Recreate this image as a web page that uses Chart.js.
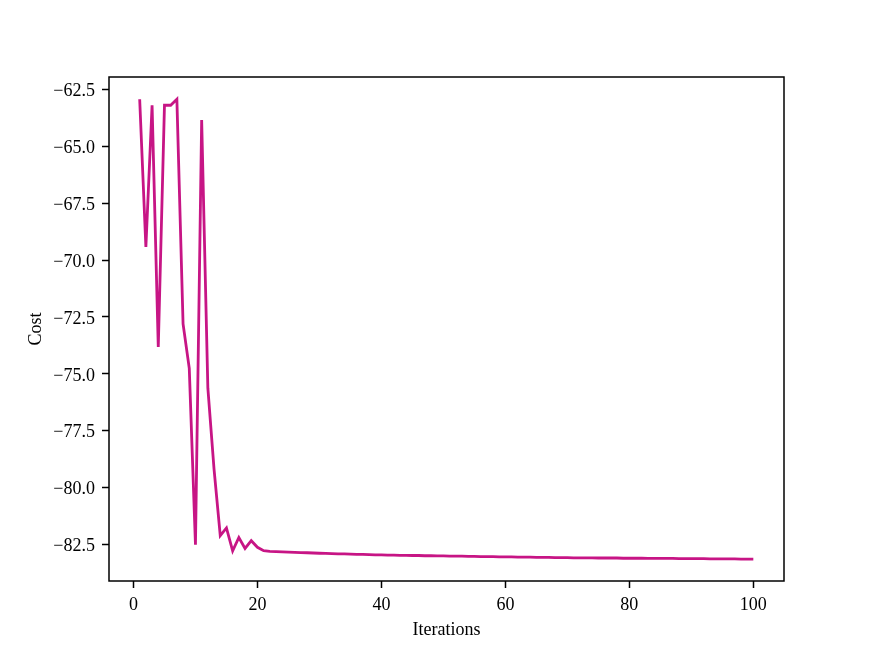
<!DOCTYPE html>
<html>
<head>
<meta charset="utf-8">
<script src="https://cdn.jsdelivr.net/npm/chart.js@4/dist/chart.umd.min.js"></script>
<style>
    html, body { margin: 0; padding: 0; background: #ffffff; }
    #wrap { width: 871px; height: 654px; position: relative; }
</style>
</head>
<body>
<div id="wrap"><canvas id="costChart"></canvas></div>
<script>
// ===========================
// DATOS
// ===========================
const iterations = [
    1, 2, 3, 4, 5, 6, 7, 8, 9, 10,
    11, 12, 13, 14, 15, 16, 17, 18, 19, 20,
    21, 22, 23, 24, 25, 26, 27, 28, 29, 30,
    31, 32, 33, 34, 35, 36, 37, 38, 39, 40,
    41, 42, 43, 44, 45, 46, 47, 48, 49, 50,
    51, 52, 53, 54, 55, 56, 57, 58, 59, 60,
    61, 62, 63, 64, 65, 66, 67, 68, 69, 70,
    71, 72, 73, 74, 75, 76, 77, 78, 79, 80,
    81, 82, 83, 84, 85, 86, 87, 88, 89, 90,
    91, 92, 93, 94, 95, 96, 97, 98, 99, 100
];

const cost = [
    -62.94, -69.43, -63.20, -73.82, -63.20, -63.20, -62.94, -72.81, -74.76, -82.51,
    -63.85, -75.63, -79.20, -82.11, -81.77, -82.78, -82.19, -82.67, -82.33, -82.62,
    -82.77, -82.80, -82.81, -82.82, -82.83, -82.84, -82.85, -82.86, -82.87, -82.88,
    -82.89, -82.90, -82.91, -82.91, -82.92, -82.93, -82.93, -82.94, -82.95, -82.95,
    -82.96, -82.96, -82.97, -82.97, -82.98, -82.98, -82.99, -82.99, -83.00, -83.00,
    -83.01, -83.01, -83.01, -83.02, -83.02, -83.03, -83.03, -83.03, -83.04, -83.04,
    -83.04, -83.05, -83.05, -83.05, -83.06, -83.06, -83.06, -83.07, -83.07, -83.07,
    -83.08, -83.08, -83.08, -83.08, -83.09, -83.09, -83.09, -83.09, -83.10, -83.10,
    -83.10, -83.10, -83.11, -83.11, -83.11, -83.11, -83.11, -83.12, -83.12, -83.12,
    -83.12, -83.12, -83.13, -83.13, -83.13, -83.13, -83.13, -83.14, -83.14, -83.14
];

const xTicks = [0, 20, 40, 60, 80, 100];
const yTicks = [-82.5, -80.0, -77.5, -75.0, -72.5, -70.0, -67.5, -65.0, -62.5];

// ===========================
// MARCO DEL ÁREA DE DIBUJO
// ===========================
const frameBox = {
    id: 'frameBox',
    afterDraw(chart) {
        const a = chart.chartArea;
        const c = chart.ctx;
        c.save();
        c.strokeStyle = '#000000';
        c.lineWidth = 1.5;
        c.strokeRect(a.left, a.top, a.right - a.left, a.bottom - a.top);
        c.restore();
    }
};

const fontTicks = { family: '"Liberation Serif", "DejaVu Serif", serif', size: 18 };

new Chart(document.getElementById('costChart'), {
    type: 'line',
    data: {
        datasets: [{
            label: 'Cost',
            data: iterations.map((it, i) => ({ x: it, y: cost[i] })),
            borderColor: '#C71585',
            backgroundColor: '#C71585',
            borderWidth: 2.8,
            pointRadius: 0,
            tension: 0,
            fill: false
        }]
    },
    options: {
        responsive: true,
        maintainAspectRatio: false,
        animation: false,
        layout: {
            padding: { left: 25, top: 77, right: 87, bottom: 13 }
        },
        plugins: {
            legend: { display: false },
            tooltip: { enabled: false }
        },
        scales: {
            x: {
                type: 'linear',
                min: -3.95,
                max: 104.95,
                afterBuildTicks: (scale) => {
                    scale.ticks = xTicks.map(v => ({ value: v }));
                },
                afterFit: (scale) => { scale.height = 60; },
                border: { display: false },
                grid: {
                    drawOnChartArea: false,
                    drawTicks: true,
                    tickLength: 7,
                    tickWidth: 1.5,
                    color: '#000000'
                },
                ticks: {
                    color: '#000000',
                    font: fontTicks,
                    padding: 6,
                    maxRotation: 0,
                    callback: (v) => String(v)
                },
                title: {
                    display: true,
                    text: 'Iterations',
                    color: '#000000',
                    font: fontTicks,
                    padding: { top: 0, bottom: 0 }
                }
            },
            y: {
                type: 'linear',
                min: -84.1,
                max: -61.96,
                afterBuildTicks: (scale) => {
                    scale.ticks = yTicks.map(v => ({ value: v }));
                },
                afterFit: (scale) => { scale.width = 84; },
                border: { display: false },
                grid: {
                    drawOnChartArea: false,
                    drawTicks: true,
                    tickLength: 7,
                    tickWidth: 1.5,
                    color: '#000000'
                },
                ticks: {
                    color: '#000000',
                    font: fontTicks,
                    padding: 7,
                    labelOffset: 2,
                    callback: (v) => (v < 0 ? '\u2212' : '') + Math.abs(v).toFixed(1)
                },
                title: {
                    display: true,
                    text: 'Cost',
                    color: '#000000',
                    font: fontTicks,
                    padding: { top: 0, bottom: 0 }
                }
            }
        }
    },
    plugins: [frameBox]
});
</script>
</body>
</html>
